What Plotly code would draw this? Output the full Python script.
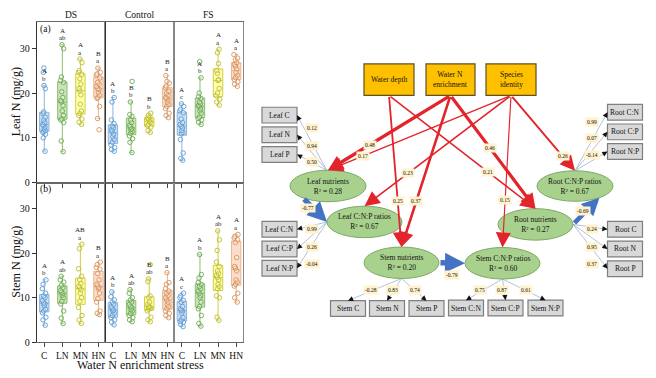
import numpy as np
import plotly.graph_objects as go

W, H = 656, 378
SERIF = "Liberation Serif, Times New Roman, serif"

groups = ["C", "LN", "MN", "HN"]
stresses = ["DS", "Control", "FS"]

# ---------------- Leaf N (mg/g), panel (a) ----------------
leaf_DS_C = [7.0, 10.0, 10.8, 11.2, 11.4, 11.6, 12.0, 12.4, 12.8, 13.0, 13.4, 14.0, 14.6, 15.4, 15.8, 21.0, 21.7, 24.6, 25.6]
leaf_DS_LN = [6.9, 9.3, 13.4, 14.0, 14.2, 15.0, 16.0, 17.2, 18.0, 18.3, 19.0, 20.3, 22.4, 22.8, 23.6, 29.9, 30.8]
leaf_DS_MN = [13.0, 13.5, 14.2, 15.0, 15.4, 16.0, 17.5, 19.6, 20.5, 21.0, 22.0, 23.2, 24.2, 24.6, 25.0, 26.8, 27.6]
leaf_DS_HN = [11.8, 14.3, 17.0, 18.8, 19.0, 19.5, 20.2, 20.8, 21.0, 21.5, 22.0, 22.4, 23.4, 24.0, 24.3, 24.6, 25.6]
leaf_CT_C = [7.0, 7.4, 7.8, 8.4, 9.0, 9.6, 10.2, 10.8, 11.4, 11.8, 12.2, 12.6, 13.2, 14.0, 18.0, 19.0]
leaf_CT_LN = [6.7, 9.0, 9.8, 10.4, 11.0, 11.4, 11.8, 12.0, 12.4, 12.8, 13.4, 14.0, 14.8, 15.2, 18.0, 22.6]
leaf_CT_MN = [11.2, 11.6, 12.4, 12.7, 13.0, 13.4, 13.7, 14.0, 14.2, 14.4, 14.7, 15.0, 15.5]
leaf_CT_HN = [14.5, 15.0, 15.5, 16.5, 17.0, 17.5, 18.0, 18.4, 18.8, 19.0, 19.5, 20.0, 20.4, 21.2, 21.6, 22.2, 22.6, 23.9]
leaf_FS_C = [5.0, 5.4, 6.6, 9.6, 10.9, 11.2, 11.6, 12.2, 12.6, 13.0, 13.4, 14.2, 15.6, 16.0, 16.4, 17.0, 17.6]
leaf_FS_LN = [13.0, 13.5, 14.0, 14.3, 14.6, 15.5, 16.0, 16.5, 17.0, 17.2, 17.6, 18.0, 18.8, 19.2, 20.0, 23.4, 27.0]
leaf_FS_MN = [17.3, 18.0, 18.6, 19.4, 20.0, 21.0, 22.8, 23.0, 24.4, 25.0, 26.6, 29.0, 29.8]
leaf_FS_HN = [21.5, 22.0, 22.5, 23.0, 23.5, 24.0, 24.6, 25.4, 26.0, 26.4, 26.8, 27.4, 27.8, 28.6]

leaf_upper = {"DS": ["A", "A", "A", "B"], "Control": ["A", "B", "B", "B"], "FS": ["A", "A", "A", "A"]}
leaf_lower = {"DS": ["b", "ab", "a", "a"], "Control": ["b", "b", "b", "a"], "FS": ["c", "b", "a", "a"]}

# ---------------- Stem N (mg/g), panel (b) ----------------
stem_DS_C = [3.8, 5.0, 5.6, 6.6, 7.0, 7.4, 8.2, 8.6, 8.8, 9.4, 10.0, 10.4, 11.0, 12.0, 13.0, 14.0]
stem_DS_LN = [4.2, 5.4, 7.0, 8.6, 9.2, 10.0, 10.5, 10.9, 11.2, 11.6, 12.2, 12.8, 13.5, 14.0, 14.8]
stem_DS_MN = [4.2, 5.0, 6.0, 7.8, 9.2, 10.0, 11.0, 11.8, 12.2, 12.6, 13.2, 14.0, 14.8, 16.5, 21.0, 22.0]
stem_DS_HN = [6.2, 6.5, 7.0, 9.0, 9.8, 11.0, 12.0, 12.3, 12.6, 13.0, 14.0, 15.4, 16.4, 16.8, 17.4, 18.0]
stem_CT_C = [3.9, 4.5, 5.0, 5.5, 6.0, 6.5, 7.0, 7.2, 7.6, 8.0, 8.5, 9.0, 9.5, 10.2, 11.3]
stem_CT_LN = [4.6, 5.0, 5.5, 6.0, 6.5, 7.0, 7.3, 7.7, 8.0, 8.5, 9.0, 9.5, 10.0, 11.0, 11.8]
stem_CT_MN = [4.6, 5.0, 5.6, 7.0, 7.4, 7.6, 7.8, 7.9, 8.0, 8.5, 9.0, 10.0, 10.4, 13.6, 14.2, 17.4]
stem_CT_HN = [5.5, 6.0, 6.5, 7.0, 7.5, 8.0, 8.5, 9.0, 9.5, 10.0, 10.5, 11.0, 11.5, 12.0, 13.0, 13.4, 15.6]
stem_FS_C = [3.5, 4.0, 4.5, 4.6, 5.0, 5.5, 6.5, 7.0, 7.2, 7.5, 8.0, 9.0, 9.4, 10.0, 10.4, 11.0]
stem_FS_LN = [3.6, 4.2, 6.0, 7.5, 8.0, 9.0, 10.0, 10.5, 11.0, 11.5, 12.0, 12.5, 13.0, 13.4, 14.4, 15.2, 19.7]
stem_FS_MN = [4.9, 5.6, 10.0, 10.4, 12.0, 12.5, 13.0, 14.0, 14.5, 15.0, 15.5, 16.0, 17.0, 18.0, 20.6, 23.0, 25.0]
stem_FS_HN = [9.0, 10.0, 11.0, 12.6, 13.0, 13.5, 14.0, 16.0, 16.6, 17.0, 19.0, 22.4, 23.0, 23.4, 23.8, 24.2]

stem_upper = {"DS": ["A", "A", "AB", "B"], "Control": ["A", "A", "B", "B"], "FS": ["A", "A", "A", "A"]}
stem_lower = {"DS": ["b", "ab", "a", "a"], "Control": ["b", "ab", "ab", "a"], "FS": ["c", "b", "ab", "a"]}

y_ticks = [0, 10, 20, 30]

# ---------------- SEM values ----------------
r2_values = {"ln": 0.28, "lr": 0.67, "sn": 0.20, "sr": 0.60, "rn": 0.27, "rr": 0.67}
red_paths = [("wn", "ln"), ("sp", "ln"), ("sp", "lr"), ("wd", "sn"), ("wn", "sn"),
             ("wn", "rn"), ("wd", "rn"), ("sp", "sr"), ("sp", "rr")]
red_coefs = [0.48, 0.17, 0.23, 0.25, 0.37, 0.46, 0.21, 0.15, 0.26]
blue_paths = [("ln", "lr"), ("sn", "sr"), ("rn", "rr")]
blue_coefs = [-0.77, -0.79, -0.69]
load_boxes = {
    "ln": ["Leaf C", "Leaf N", "Leaf P"],
    "lr": ["Leaf C:N", "Leaf C:P", "Leaf N:P"],
    "sn": ["Stem C", "Stem N", "Stem P"],
    "sr": ["Stem C:N", "Stem C:P", "Stem N:P"],
    "rn": ["Root C", "Root N", "Root P"],
    "rr": ["Root C:N", "Root C:P", "Root N:P"],
}
load_coefs = {
    "ln": [0.12, 0.94, 0.50],
    "lr": [0.99, 0.26, -0.04],
    "sn": [-0.28, 0.83, 0.74],
    "sr": [0.75, 0.87, 0.61],
    "rn": [0.24, 0.95, 0.37],
    "rr": [0.99, 0.07, -0.14],
}

# ================= styles / layout geometry =================
box_fill = {"C": "rgba(157,195,230,0.55)", "LN": "rgba(169,209,142,0.6)",
            "MN": "rgba(255,255,120,0.6)", "HN": "rgba(248,203,173,0.65)"}
box_line = {"C": "#8FB4DC", "LN": "#8CBF6C", "MN": "#CFCF45", "HN": "#EDB48C"}
pt_col = {"C": "#5B9BD5", "LN": "#6AA84F", "MN": "#BDBD25", "HN": "#D9925C"}

panel_x = [36.7, 105.3, 174.3, 243.0]
row_y = [(22.7, 185.5), (185.5, 347.7)]
y_top = [35.8, 35.85]


def pl_interp(arr, p):
    n = p * len(arr) - 0.5
    if n < 0:
        return arr[0]
    if n > len(arr) - 1:
        return arr[-1]
    f = n % 1
    return f * arr[int(np.ceil(n))] + (1 - f) * arr[int(np.floor(n))]


def upper_whisker(vals):
    v = np.sort(np.asarray(vals, float))
    q1, q3 = pl_interp(v, 0.25), pl_interp(v, 0.75)
    fence = q3 + 1.5 * (q3 - q1)
    return float(v[v <= fence].max())


leaf_sets = {"DS": [leaf_DS_C, leaf_DS_LN, leaf_DS_MN, leaf_DS_HN],
             "Control": [leaf_CT_C, leaf_CT_LN, leaf_CT_MN, leaf_CT_HN],
             "FS": [leaf_FS_C, leaf_FS_LN, leaf_FS_MN, leaf_FS_HN]}
stem_sets = {"DS": [stem_DS_C, stem_DS_LN, stem_DS_MN, stem_DS_HN],
             "Control": [stem_CT_C, stem_CT_LN, stem_CT_MN, stem_CT_HN],
             "FS": [stem_FS_C, stem_FS_LN, stem_FS_MN, stem_FS_HN]}

fig = go.Figure()
layout = {}
annotations = []
shapes = []

rows = [(leaf_sets, leaf_upper, leaf_lower), (stem_sets, stem_upper, stem_lower)]
for r, (sets, upper, lower) in enumerate(rows):
    for c, s in enumerate(stresses):
        k = r * 3 + c + 1
        sfx = "" if k == 1 else str(k)
        for i, g in enumerate(groups):
            vals = sets[s][i]
            fig.add_trace(go.Box(
                x=[g] * len(vals), y=vals, xaxis="x" + sfx, yaxis="y" + sfx,
                boxpoints="all", jitter=0.5, pointpos=0, width=0.52, whiskerwidth=0.4,
                fillcolor=box_fill[g], line=dict(color=box_line[g], width=1),
                marker=dict(size=4.5, color="rgba(255,255,255,0.25)",
                            line=dict(color=pt_col[g], width=0.9)),
                showlegend=False, hoverinfo="y"))
            uw = upper_whisker(vals)
            annotations.append(dict(x=i, y=uw, xref="x" + sfx, yref="y" + sfx, text=lower[s][i],
                                    showarrow=False, yshift=6.5, font=dict(family=SERIF, size=7, color="#222")))
            annotations.append(dict(x=i, y=uw, xref="x" + sfx, yref="y" + sfx, text=upper[s][i],
                                    showarrow=False, yshift=14, font=dict(family=SERIF, size=7, color="#222")))
        y0, y1 = row_y[r]
        layout["xaxis" + sfx] = dict(
            domain=[panel_x[c] / W, panel_x[c + 1] / W], anchor="y" + sfx,
            type="category", categoryorder="array", categoryarray=groups,
            range=[-0.42, 3.38], showline=True, mirror=True, linecolor="#666", linewidth=1,
            ticks="outside", ticklen=4, tickcolor="#444", showticklabels=(r == 1), tickangle=0,
            tickfont=dict(family=SERIF, size=9.5, color="#111"), showgrid=False, zeroline=False)
        layout["yaxis" + sfx] = dict(
            domain=[1 - y1 / H, 1 - y0 / H], anchor="x" + sfx, range=[0, y_top[r]],
            showline=True, mirror=True, linecolor="#333" if c == 0 else "#888", linewidth=1,
            ticks="outside" if c == 0 else "", ticklen=4, tickcolor="#333", tickvals=y_ticks,
            showticklabels=(c == 0), tickfont=dict(family=SERIF, size=10, color="#111"),
            showgrid=False, zeroline=False)

# full-figure pixel coordinate system for text and the SEM diagram
layout["xaxis7"] = dict(domain=[0, 1], range=[0, W], visible=False, anchor="y7", fixedrange=True)
layout["yaxis7"] = dict(domain=[0, 1], range=[H, 0], visible=False, anchor="x7", fixedrange=True)


def txt(x, y, t, size, **kw):
    d = dict(x=x, y=y, xref="x7", yref="y7", text=t, showarrow=False,
             font=dict(family=SERIF, size=size, color="#111"))
    d.update(kw)
    annotations.append(d)


# facet titles, panel labels, axis titles
for c, s in enumerate(stresses):
    txt((panel_x[c] + panel_x[c + 1]) / 2, 15, s, 9.5)
txt(45, 30, "(a)", 9.5)
txt(45, 193, "(b)", 9.5)
txt(16, 104, "Leaf N (mg/g)", 12, textangle=-90)
txt(16, 266, "Stem N (mg/g)", 12, textangle=-90)
txt(140, 371, "Water N enrichment stress", 12)

# ---------------- SEM diagram geometry ----------------
rect_nodes = {"wd": (389, 81, 50, 32), "wn": (450.5, 81, 49, 32), "sp": (511, 81, 50, 32)}
rect_text = {"wd": "Water depth", "wn": "Water N<br>enrichment", "sp": "Species<br>identity"}
ell_nodes = {"ln": (328, 189, 38, 16), "lr": (364.5, 225.5, 37.5, 16), "sn": (401.5, 267, 37.5, 16),
             "sr": (502.5, 267.5, 37.5, 16), "rn": (535.5, 228, 37.5, 16), "rr": (575, 189, 38, 15.5)}
ell_names = {"ln": "Leaf nutrients", "lr": "Leaf C:N:P ratios", "sn": "Stem nutrients",
             "sr": "Stem C:N:P ratios", "rn": "Root nutrients", "rr": "Root C:N:P ratios"}
box_w, box_h = 35, 16
box_nodes = {
    "Leaf C": (279.5, 117), "Leaf N": (279.5, 137), "Leaf P": (279.5, 157),
    "Leaf C:N": (279.5, 233), "Leaf C:P": (279.5, 253), "Leaf N:P": (279.5, 272.5),
    "Stem C": (348, 313.5), "Stem N": (387, 313.5), "Stem P": (426.5, 313.5),
    "Stem C:N": (466, 313), "Stem C:P": (505.5, 313), "Stem N:P": (545.5, 313),
    "Root C:N": (625, 114), "Root C:P": (625, 134), "Root N:P": (625, 154),
    "Root C": (625, 233), "Root N": (625, 253), "Root P": (625, 273),
}
load_anchor = {"ln": (268, "right"), "lr": (180, "right"), "sn": (90, "top"),
               "sr": (90, "top"), "rn": (0, "left"), "rr": (270, "left")}
load_label_pos = {
    "ln": [(312, 130), (312, 148), (312, 165)],
    "lr": [(312, 233), (312, 251), (312, 268)],
    "sn": [(371, 295), (393, 295), (415, 295)],
    "sr": [(480, 295), (502, 295), (526, 295)],
    "rn": [(592, 233), (592, 251), (592, 268)],
    "rr": [(592, 124), (592, 140), (592, 158)],
}
red_label_t = [0.66, 0.81, 0.70, 0.695, 0.695, 0.46, 0.676, 0.69, 0.81]
blue_angles = [(132, 180), (0, 180), (0, 50)]
blue_label_pos = [(308, 211), (452, 279), (583, 214)]
RED, BLUE = "#E3242B", "#4472C4"
LBL_BG = "#FFF2CC"


def ell_pt(n, deg):
    cx, cy, rx, ry = ell_nodes[n]
    t = np.radians(deg)
    return cx + rx * np.cos(t), cy + ry * np.sin(t)


def box_pt(name, side):
    cx, cy = box_nodes[name]
    return {"right": (cx + box_w / 2, cy), "left": (cx - box_w / 2, cy),
            "top": (cx, cy - box_h / 2)}[side]


def coef_label(x, y, v):
    txt(x, y, f"{v:.2f}", 5.5, bgcolor=LBL_BG, borderpad=1)


def arrow(tail, head, col, w, size, head_style=2):
    annotations.append(dict(x=head[0], y=head[1], ax=tail[0], ay=tail[1], xref="x7", yref="y7",
                            axref="x7", ayref="y7", text="", showarrow=True, arrowhead=head_style,
                            arrowsize=size, arrowwidth=w, arrowcolor=col, standoff=0))


# loading lines (drawn first, under nodes)
for n, names in load_boxes.items():
    deg, side = load_anchor[n]
    a = ell_pt(n, deg)
    for j, name in enumerate(names):
        b = box_pt(name, side)
        shapes.append(dict(type="line", xref="x7", yref="y7", x0=a[0], y0=a[1], x1=b[0], y1=b[1],
                           line=dict(color="#9DB3CF", width=0.8), layer="above"))
        d = np.array(b) - np.array(a)
        d = d / np.linalg.norm(d)
        arrow((b[0] - 4 * d[0], b[1] - 4 * d[1]), b, "#111", 0.8, 1.3)
        lx, ly = load_label_pos[n][j]
        coef_label(lx, ly, load_coefs[n][j])

# nodes
for n, (cx, cy, w, h) in rect_nodes.items():
    shapes.append(dict(type="rect", xref="x7", yref="y7", x0=cx - w / 2, x1=cx + w / 2,
                       y0=cy - h / 2, y1=cy + h / 2, fillcolor="#FFC000",
                       line=dict(color="#5E5020", width=1.2), layer="above"))
    txt(cx, cy, rect_text[n], 7.5)
for n, (cx, cy, rx, ry) in ell_nodes.items():
    shapes.append(dict(type="circle", xref="x7", yref="y7", x0=cx - rx, x1=cx + rx,
                       y0=cy - ry, y1=cy + ry, fillcolor="#A9D18E",
                       line=dict(color="#7FA866", width=1), layer="above"))
    txt(cx, cy, f"{ell_names[n]}<br>R² = {r2_values[n]:.2f}", 7.5)
for name, (cx, cy) in box_nodes.items():
    shapes.append(dict(type="rect", xref="x7", yref="y7", x0=cx - box_w / 2, x1=cx + box_w / 2,
                       y0=cy - box_h / 2, y1=cy + box_h / 2, fillcolor="#D9D9D9",
                       line=dict(color="#7F7F7F", width=1.2), layer="above"))
    txt(cx, cy, name, 7.5)

# an invisible trace that anchors the pixel axis used by the diagram
fig.add_trace(go.Scatter(x=[p[0] for p in box_nodes.values()], y=[p[1] for p in box_nodes.values()],
                         mode="none", xaxis="x7", yaxis="y7", showlegend=False, hoverinfo="skip"))

# red structural paths
for (src, tgt), v, t in zip(red_paths, red_coefs, red_label_t):
    cx, cy, w, h = rect_nodes[src]
    tail = (cx, cy + h / 2)
    head = ell_pt(tgt, 270)
    lw = 0.2 + 6.5 * abs(v)
    arrow(tail, head, RED, lw, max(0.8, 3.0 / lw))
    coef_label(tail[0] + t * (head[0] - tail[0]), tail[1] + t * (head[1] - tail[1]), v)

# blue paths between latent groups
for (src, tgt), v, (da, db), (lx, ly) in zip(blue_paths, blue_coefs, blue_angles, blue_label_pos):
    tail = ell_pt(src, da)
    head = ell_pt(tgt, db)
    lw = 0.2 + 6.5 * abs(v)
    arrow(tail, head, BLUE, lw, 0.75)
    coef_label(lx, ly, v)

fig.update_layout(
    width=W, height=H, margin=dict(l=0, r=0, t=0, b=0),
    paper_bgcolor="white", plot_bgcolor="rgba(0,0,0,0)",
    showlegend=False, boxmode="overlay",
    font=dict(family=SERIF, color="#111"),
    annotations=annotations, shapes=shapes, **layout)

fig.write_html("out.html", config={"displayModeBar": False},
               post_script="document.body.style.margin='0px';document.body.style.overflow='hidden';")
